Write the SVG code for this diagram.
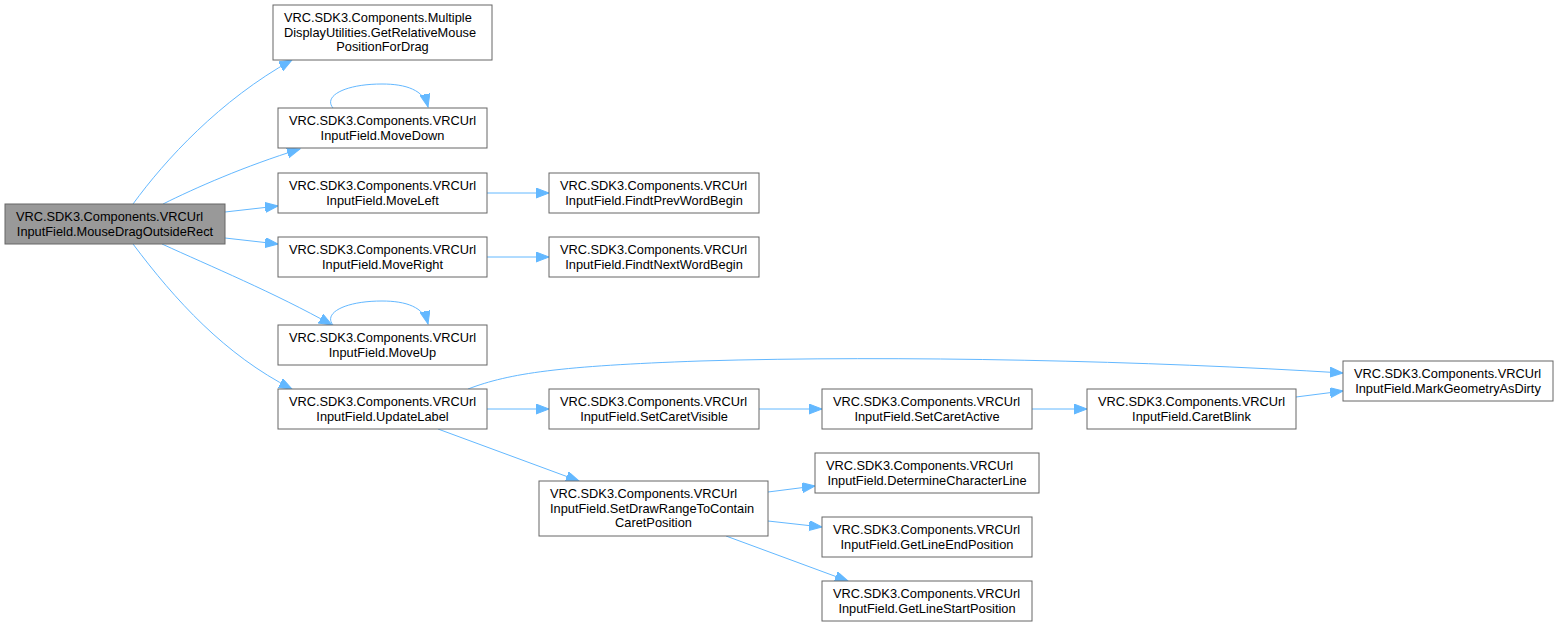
<svg xmlns="http://www.w3.org/2000/svg" width="1559" height="626" viewBox="0 0 1559 626">
<style>
.n rect{fill:#ffffff;stroke:#666666;stroke-width:1}
.n.root rect{fill:#999999}
.n text{font-family:"Liberation Sans",Arial,Helvetica,sans-serif;font-size:12.8px;fill:#000000}
.l{text-anchor:start}
.c{text-anchor:middle}
.e path{fill:none;stroke:#63b8ff;stroke-width:1;marker-end:url(#ah)}
</style>
<defs>
<marker id="ah" markerUnits="userSpaceOnUse" markerWidth="14" markerHeight="11" refX="13" refY="5" orient="auto">
<path d="M0,0 L13,5 L0,10 z" fill="#63b8ff" stroke="#63b8ff" stroke-width="1"/>
</marker>
</defs>
<rect width="1559" height="626" fill="#ffffff"/>
<g class="e" id="edges">
<path d="M133,204 C165,160 220,100 292,60"/>
<path d="M163,204 C195,188 245,166 300,149"/>
<path d="M225,212 L278,206"/>
<path d="M225,238 L278,244"/>
<path d="M162,244 C210,266 275,293 332,325"/>
<path d="M133,244 C175,300 225,355 292,389"/>
<path d="M333,108 C323,96 345,84 382,84 C406,84 424,90 428,107"/>
<path d="M333,325 C323,313 345,301 382,301 C406,301 424,307 428,324"/>
<path d="M487,193 L549,193"/>
<path d="M487,257 L549,257"/>
<path d="M487,409 L549,409"/>
<path d="M468,389 C510,373 560,366 700,361 C900,355 1150,361 1343,373"/>
<path d="M438,429 L579,481"/>
<path d="M759,409 L822,409"/>
<path d="M1032,409 L1087,409"/>
<path d="M1296,397 L1343,391"/>
<path d="M768,492 L815,486"/>
<path d="M768,521 L822,527"/>
<path d="M726,536 L848,581"/>
</g>
<g class="n root" id="n_root">
<rect x="5" y="204" width="220" height="40"/>
<text class="l" x="16" y="221">VRC.SDK3.Components.VRCUrl</text>
<text class="c" x="115" y="235.5">InputField.MouseDragOutsideRect</text>
</g>
<g class="n" id="n_multiple">
<rect x="273" y="5" width="219" height="55"/>
<text class="l" x="284" y="22">VRC.SDK3.Components.Multiple</text>
<text class="l" x="284" y="36.5">DisplayUtilities.GetRelativeMouse</text>
<text class="c" x="382.5" y="51">PositionForDrag</text>
</g>
<g class="n" id="n_movedown">
<rect x="278" y="108" width="209" height="40"/>
<text class="l" x="289" y="125">VRC.SDK3.Components.VRCUrl</text>
<text class="c" x="382.5" y="139.5">InputField.MoveDown</text>
</g>
<g class="n" id="n_moveleft">
<rect x="278" y="173" width="209" height="40"/>
<text class="l" x="289" y="190">VRC.SDK3.Components.VRCUrl</text>
<text class="c" x="382.5" y="204.5">InputField.MoveLeft</text>
</g>
<g class="n" id="n_moveright">
<rect x="278" y="237" width="209" height="40"/>
<text class="l" x="289" y="254">VRC.SDK3.Components.VRCUrl</text>
<text class="c" x="382.5" y="268.5">InputField.MoveRight</text>
</g>
<g class="n" id="n_moveup">
<rect x="278" y="325" width="209" height="40"/>
<text class="l" x="289" y="342">VRC.SDK3.Components.VRCUrl</text>
<text class="c" x="382.5" y="356.5">InputField.MoveUp</text>
</g>
<g class="n" id="n_updatelabel">
<rect x="278" y="389" width="209" height="40"/>
<text class="l" x="289" y="406">VRC.SDK3.Components.VRCUrl</text>
<text class="c" x="382.5" y="420.5">InputField.UpdateLabel</text>
</g>
<g class="n" id="n_findtprev">
<rect x="549" y="173" width="210" height="40"/>
<text class="l" x="560" y="190">VRC.SDK3.Components.VRCUrl</text>
<text class="c" x="654" y="204.5">InputField.FindtPrevWordBegin</text>
</g>
<g class="n" id="n_findtnext">
<rect x="549" y="237" width="210" height="40"/>
<text class="l" x="560" y="254">VRC.SDK3.Components.VRCUrl</text>
<text class="c" x="654" y="268.5">InputField.FindtNextWordBegin</text>
</g>
<g class="n" id="n_setcaretvisible">
<rect x="549" y="389" width="210" height="40"/>
<text class="l" x="560" y="406">VRC.SDK3.Components.VRCUrl</text>
<text class="c" x="654" y="420.5">InputField.SetCaretVisible</text>
</g>
<g class="n" id="n_setdrawrange">
<rect x="539" y="481" width="229" height="55"/>
<text class="l" x="550" y="498">VRC.SDK3.Components.VRCUrl</text>
<text class="l" x="550" y="512.5">InputField.SetDrawRangeToContain</text>
<text class="c" x="653.5" y="527">CaretPosition</text>
</g>
<g class="n" id="n_setcaretactive">
<rect x="822" y="389" width="210" height="40"/>
<text class="l" x="833" y="406">VRC.SDK3.Components.VRCUrl</text>
<text class="c" x="927" y="420.5">InputField.SetCaretActive</text>
</g>
<g class="n" id="n_determine">
<rect x="815" y="453" width="224" height="40"/>
<text class="l" x="826" y="470">VRC.SDK3.Components.VRCUrl</text>
<text class="c" x="927" y="484.5">InputField.DetermineCharacterLine</text>
</g>
<g class="n" id="n_getlineend">
<rect x="822" y="517" width="210" height="40"/>
<text class="l" x="833" y="534">VRC.SDK3.Components.VRCUrl</text>
<text class="c" x="927" y="548.5">InputField.GetLineEndPosition</text>
</g>
<g class="n" id="n_getlinestart">
<rect x="822" y="581" width="210" height="40"/>
<text class="l" x="833" y="598">VRC.SDK3.Components.VRCUrl</text>
<text class="c" x="927" y="612.5">InputField.GetLineStartPosition</text>
</g>
<g class="n" id="n_caretblink">
<rect x="1087" y="389" width="209" height="40"/>
<text class="l" x="1098" y="406">VRC.SDK3.Components.VRCUrl</text>
<text class="c" x="1191.5" y="420.5">InputField.CaretBlink</text>
</g>
<g class="n" id="n_markgeometry">
<rect x="1343" y="361" width="210" height="40"/>
<text class="l" x="1354" y="378">VRC.SDK3.Components.VRCUrl</text>
<text class="c" x="1448" y="392.5">InputField.MarkGeometryAsDirty</text>
</g>
</svg>
